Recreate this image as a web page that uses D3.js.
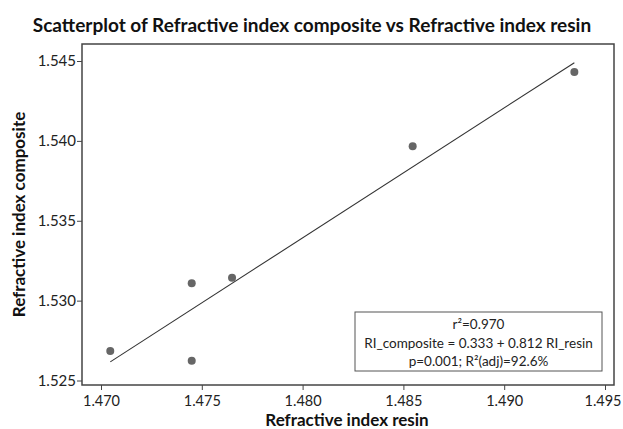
<!DOCTYPE html>
<html>
<head>
<meta charset="utf-8">
<script src="https://cdn.jsdelivr.net/npm/d3@7"></script>
<style>
  html, body { margin: 0; padding: 0; background: #fff; }
  svg { display: block; }
  text { font-family: Lato, "Open Sans", sans-serif; }
</style>
</head>
<body>
<svg id="chart" width="623" height="429"></svg>
<script>
// ---- data ----
const resinRI = [1.47046, 1.4745, 1.4745, 1.4765, 1.48546, 1.49348];
const compositeRI = [1.52685, 1.52624, 1.53108, 1.53143, 1.53967, 1.54431];
const xTicks = [1.470, 1.475, 1.480, 1.485, 1.490, 1.495];
const yTicks = [1.525, 1.530, 1.535, 1.540, 1.545];
const fitIntercept = 0.3298;   // fitted line as drawn
const fitSlope = 0.8136;
const statLines = ["r²=0.970", "RI_composite = 0.333 + 0.812 RI_resin", "p=0.001; R²(adj)=92.6%"];
const titleText = "Scatterplot of Refractive index composite vs Refractive index resin";
const xLabel = "Refractive index resin";
const yLabel = "Refractive index composite";

const svg = d3.select("#chart");
const plot = { left: 82, right: 614, top: 44, bottom: 385 };

const x = d3.scaleLinear().domain([1.470, 1.495]).range([101, 605]);
const y = d3.scaleLinear().domain([1.525, 1.545]).range([380.5, 61]);

// frame
svg.append("rect")
  .attr("x", plot.left).attr("y", plot.top)
  .attr("width", plot.right - plot.left).attr("height", plot.bottom - plot.top)
  .attr("fill", "none").attr("stroke", "#444").attr("stroke-width", 1.5);

// axes
const xAxis = d3.axisBottom(x).tickValues(xTicks).tickFormat(d3.format(".3f")).tickSize(5).tickSizeOuter(0);
const gx = svg.append("g").attr("transform", `translate(0,${plot.bottom})`).call(xAxis);
gx.select(".domain").remove();
gx.selectAll("line").attr("stroke", "#444");
gx.selectAll("text").attr("font-size", 14.5).attr("fill", "#222").attr("dy", "0.92em")
  .attr("dx", (d, i, n) => i === n.length - 1 ? -2.5 : 0);

const yAxis = d3.axisLeft(y).tickValues(yTicks).tickFormat(d3.format(".3f")).tickSize(5).tickSizeOuter(0);
const gy = svg.append("g").attr("transform", `translate(${plot.left},0)`).call(yAxis);
gy.select(".domain").remove();
gy.selectAll("line").attr("stroke", "#444");
gy.selectAll("text").attr("font-size", 15).attr("fill", "#222").attr("x", -6);

// fit line
const xmin = d3.min(resinRI), xmax = d3.max(resinRI);
svg.append("line")
  .attr("x1", x(xmin)).attr("y1", y(fitIntercept + fitSlope * xmin))
  .attr("x2", x(xmax)).attr("y2", y(fitIntercept + fitSlope * xmax))
  .attr("stroke", "#333").attr("stroke-width", 1.1);

// points
svg.append("g").selectAll("circle")
  .data(resinRI.map((v, i) => [v, compositeRI[i]]))
  .join("circle")
  .attr("cx", d => x(d[0])).attr("cy", d => y(d[1]))
  .attr("r", 4).attr("fill", "#666");

// stats box
svg.append("rect")
  .attr("x", 355).attr("y", 312).attr("width", 247).attr("height", 59)
  .attr("fill", "#fff").attr("stroke", "#555").attr("stroke-width", 1);
svg.append("g").selectAll("text")
  .data(statLines)
  .join("text")
  .attr("x", 478.5).attr("y", (d, i) => 329 + i * 18.5)
  .attr("text-anchor", "middle").attr("font-size", 13.5).attr("fill", "#222")
  .text(d => d);

// title and labels
svg.append("text").attr("x", 312).attr("y", 32)
  .attr("text-anchor", "middle").attr("font-size", 19).attr("font-weight", "bold").attr("fill", "#111")
  .text(titleText);
svg.append("text").attr("x", 347).attr("y", 426)
  .attr("text-anchor", "middle").attr("font-size", 17).attr("font-weight", "bold").attr("fill", "#111")
  .text(xLabel);
svg.append("text").attr("transform", `translate(25,${(plot.top + plot.bottom) / 2}) rotate(-90)`)
  .attr("text-anchor", "middle").attr("font-size", 17).attr("font-weight", "bold").attr("fill", "#111")
  .text(yLabel);
</script>
</body>
</html>
